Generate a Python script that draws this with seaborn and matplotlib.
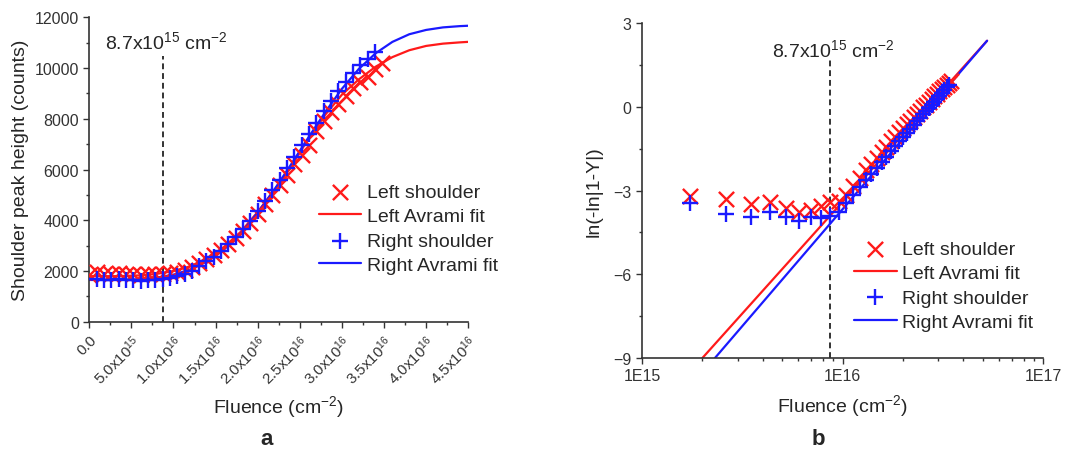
import numpy as np
import matplotlib
matplotlib.use('Agg')
import matplotlib.pyplot as plt
import matplotlib.ticker as mticker
import seaborn as sns

# ── Data (fluence in units of 1e15 cm^-2) ─────────────────────
fluence_left = [0.0, 0.87, 1.74, 2.61, 3.48, 4.35, 5.22, 6.09, 6.96, 7.83,
                8.70, 9.57, 10.44, 11.31, 12.18, 13.05, 13.92, 14.79, 15.66, 16.53,
                17.40, 18.27, 19.14, 20.01, 20.88, 21.75, 22.62, 23.49, 24.36, 25.23,
                26.10, 26.97, 27.84, 28.71, 29.58, 30.45, 31.32, 32.19, 33.06, 33.93,
                34.80]
height_left = [1850, 1950, 1900, 1880, 1920, 1870, 1900, 1860, 1880, 1900,
               1870, 1930, 1980, 2060, 2150, 2330, 2480, 2650, 2850, 3050,
               3300, 3560, 3880, 4250, 4650, 5000, 5400, 5800, 6200, 6580,
               6980, 7500, 7900, 8250, 8600, 8900, 9200, 9450, 9650, 9950,
               10200]

fluence_right = [0.87, 1.74, 2.61, 3.48, 4.35, 5.22, 6.09, 6.96, 7.83, 8.70,
                 9.57, 10.44, 11.31, 12.18, 13.05, 13.92, 14.79, 15.66, 16.53, 17.40,
                 18.27, 19.14, 20.01, 20.88, 21.75, 22.62, 23.49, 24.36, 25.23, 26.10,
                 26.97, 27.84, 28.71, 29.58, 30.45, 31.32, 32.19, 33.06, 33.93]
height_right = [1700, 1660, 1640, 1690, 1630, 1650, 1620, 1660, 1640, 1680,
                1730, 1800, 1900, 2020, 2200, 2380, 2560, 2790, 3050, 3330,
                3640, 3980, 4360, 4760, 5180, 5600, 6050, 6500, 6950, 7400,
                7850, 8300, 8700, 9100, 9450, 9800, 10100, 10350, 10650]

# Avrami fit curves (fluence in units of 1e16 cm^-2)
fit_x = [0.0, 0.2, 0.4, 0.6, 0.8, 1.0, 1.2, 1.4, 1.6, 1.8, 2.0, 2.2,
         2.4, 2.6, 2.8, 3.0, 3.2, 3.4, 3.6, 3.8, 4.0, 4.2, 4.4, 4.5]
fit_left = [1800, 1800, 1805, 1830, 1890, 2000, 2190, 2500, 2950, 3550, 4330, 5200,
            6130, 7200, 8150, 8950, 9550, 10050, 10430, 10700, 10870, 10960, 11010, 11030]
fit_right = [1650, 1650, 1655, 1680, 1740, 1860, 2060, 2380, 2850, 3480, 4300, 5220,
             6220, 7250, 8250, 9180, 9960, 10580, 11030, 11330, 11500, 11600, 11650, 11665]

# Linearised (Avrami) plot, panel b
ln_fluence_left = fluence_left[2:]
ln_left = [-3.18, -3.30, -3.48, -3.40, -3.63, -3.78, -3.69, -3.55, -3.40, -3.38,
           -3.15, -2.85, -2.55, -2.28, -2.05, -1.83, -1.62, -1.43, -1.24, -1.07,
           -0.91, -0.77, -0.62, -0.49, -0.36, -0.24, -0.13, -0.02, 0.08, 0.18,
           0.28, 0.38, 0.47, 0.56, 0.64, 0.73, 0.80, 0.87, 0.93]
ln_fluence_right = fluence_right[1:]
ln_right = [-3.45, -3.84, -3.95, -3.78, -3.95, -4.08, -3.93, -4.00, -3.90, -3.75,
            -3.45, -3.15, -2.88, -2.63, -2.40, -2.18, -1.97, -1.78, -1.59, -1.41,
            -1.24, -1.08, -0.93, -0.79, -0.65, -0.52, -0.39, -0.27, -0.15, -0.04,
            0.08, 0.19, 0.29, 0.40, 0.50, 0.60, 0.70, 0.80]
lnfit_left_x = [2.0e15, 5.26e16]
lnfit_left_y = [-9.0, 2.37]
lnfit_right_x = [2.31e15, 5.26e16]
lnfit_right_y = [-9.0, 2.37]

threshold = 8.7e15
threshold_top_a = 10480
threshold_top_b = 1.71

RED = '#ff1a1a'
BLUE = '#1a1aff'
ANNOT = '8.7x10$^{15}$ cm$^{-2}$'

sns.set_style('ticks')
plt.rcParams['font.family'] = ['Liberation Sans', 'DejaVu Sans']
plt.rcParams['mathtext.fontset'] = 'custom'
plt.rcParams['mathtext.rm'] = 'Liberation Sans'
plt.rcParams['mathtext.it'] = 'Liberation Sans:italic'
plt.rcParams['mathtext.bf'] = 'Liberation Sans:bold'
for ax_ in ['xtick', 'ytick']:
    plt.rcParams[f'{ax_}.major.size'] = 4
    plt.rcParams[f'{ax_}.minor.size'] = 2.5
    plt.rcParams[f'{ax_}.major.width'] = 1.0
    plt.rcParams[f'{ax_}.minor.width'] = 1.0
    plt.rcParams[f'{ax_}.color'] = '#333333'
plt.rcParams['axes.edgecolor'] = '#333333'
plt.rcParams['axes.linewidth'] = 1.2

fig = plt.figure(figsize=(10.69, 4.56), dpi=100)
ax1 = fig.add_axes([0.0835, 0.292, 0.3545, 0.668])
ax2 = fig.add_axes([0.6006, 0.2127, 0.3751, 0.7343])


def draw(ax, x_l, y_l, fx_l, fy_l, x_r, y_r, fx_r, fy_r):
    sns.scatterplot(x=x_l, y=y_l, marker='x', s=120, color=RED, linewidth=1.7,
                    ax=ax, label='Left shoulder', zorder=3)
    sns.lineplot(x=fx_l, y=fy_l, color=RED, lw=1.6, ax=ax,
                 label='Left Avrami fit', zorder=2)
    sns.scatterplot(x=x_r, y=y_r, marker='+', s=120, color=BLUE, linewidth=1.7,
                    ax=ax, label='Right shoulder', zorder=4)
    sns.lineplot(x=fx_r, y=fy_r, color=BLUE, lw=1.6, ax=ax,
                 label='Right Avrami fit', zorder=2)


# ── Panel a ───────────────────────────────────────────────────
draw(ax1,
     [f / 10 for f in fluence_left], height_left, fit_x, fit_left,
     [f / 10 for f in fluence_right], height_right, fit_x, fit_right)
ax1.plot([threshold / 1e16] * 2, [0, threshold_top_a], color='#333333',
         lw=1.4, dashes=(3, 2), zorder=1)
ax1.text(threshold / 1e16 + 0.05, 11065, ANNOT, ha='center', va='center',
         fontsize=14)
ax1.set_xlim(0, 4.5)
ax1.set_ylim(0, 12000)
ax1.set_xticks(np.arange(0, 4.51, 0.5))
xlabels = ['0.0', '5.0x10$^{15}$'] + [f'{v:.1f}x10$^{{16}}$' for v in np.arange(1.0, 4.51, 0.5)]
ax1.set_xticklabels(xlabels, rotation=45, ha='right', rotation_mode='anchor',
                    fontsize=11)
ax1.xaxis.set_minor_locator(mticker.MultipleLocator(0.25))
ax1.set_yticks(range(0, 12001, 2000))
ax1.yaxis.set_minor_locator(mticker.MultipleLocator(1000))
ax1.tick_params(axis='y', labelsize=11.5)
ax1.set_xlabel('Fluence (cm$^{-2}$)', fontsize=14, labelpad=4)
ax1.set_ylabel('Shoulder peak height (counts)', fontsize=14, labelpad=4)

# ── Panel b ───────────────────────────────────────────────────
ax2.set_xscale('log')
draw(ax2,
     [f * 1e15 for f in ln_fluence_left], ln_left, lnfit_left_x, lnfit_left_y,
     [f * 1e15 for f in ln_fluence_right], ln_right, lnfit_right_x, lnfit_right_y)
ax2.plot([threshold] * 2, [-9, threshold_top_b], color='#333333',
         lw=1.4, dashes=(3, 2), zorder=1)
ax2.text(9.0e15, 2.07, ANNOT, ha='center', va='center', fontsize=14)
ax2.set_xlim(1e15, 1e17)
ax2.set_ylim(-9, 3)
ax2.set_yticks([-9, -6, -3, 0, 3])
ax2.yaxis.set_minor_locator(mticker.MultipleLocator(1.5))
ax2.xaxis.set_major_locator(mticker.FixedLocator([1e15, 1e16, 1e17]))
ax2.xaxis.set_major_formatter(
    mticker.FuncFormatter(lambda v, p: '1E%d' % round(np.log10(v))))
ax2.xaxis.set_minor_locator(mticker.LogLocator(base=10, subs=np.arange(2, 10)))
ax2.xaxis.set_minor_formatter(mticker.NullFormatter())
ax2.tick_params(axis='both', labelsize=11.5)
ax2.set_xlabel('Fluence (cm$^{-2}$)', fontsize=14, labelpad=6)
ax2.set_ylabel('ln(-ln|1-Y|)', fontsize=14, labelpad=8)

order = ['Left shoulder', 'Left Avrami fit', 'Right shoulder', 'Right Avrami fit']
for ax, anchor in [(ax1, (0.605, 0.455)), (ax2, (0.528, 0.352))]:
    sns.despine(ax=ax)
    handles, labels = ax.get_legend_handles_labels()
    lookup = dict(zip(labels, handles))
    ax.legend([lookup[k] for k in order], order, loc='upper left',
              bbox_to_anchor=anchor, frameon=False, fontsize=14,
              handlelength=2.2, handletextpad=0.3, labelspacing=0.35,
              borderpad=0, borderaxespad=0)

fig.text(267 / 1069, 1 - 440 / 456, 'a', fontsize=16, fontweight='bold',
         ha='center', va='center')
fig.text(818 / 1069, 1 - 440 / 456, 'b', fontsize=16, fontweight='bold',
         ha='center', va='center')

fig.savefig('out.png', dpi=100)
